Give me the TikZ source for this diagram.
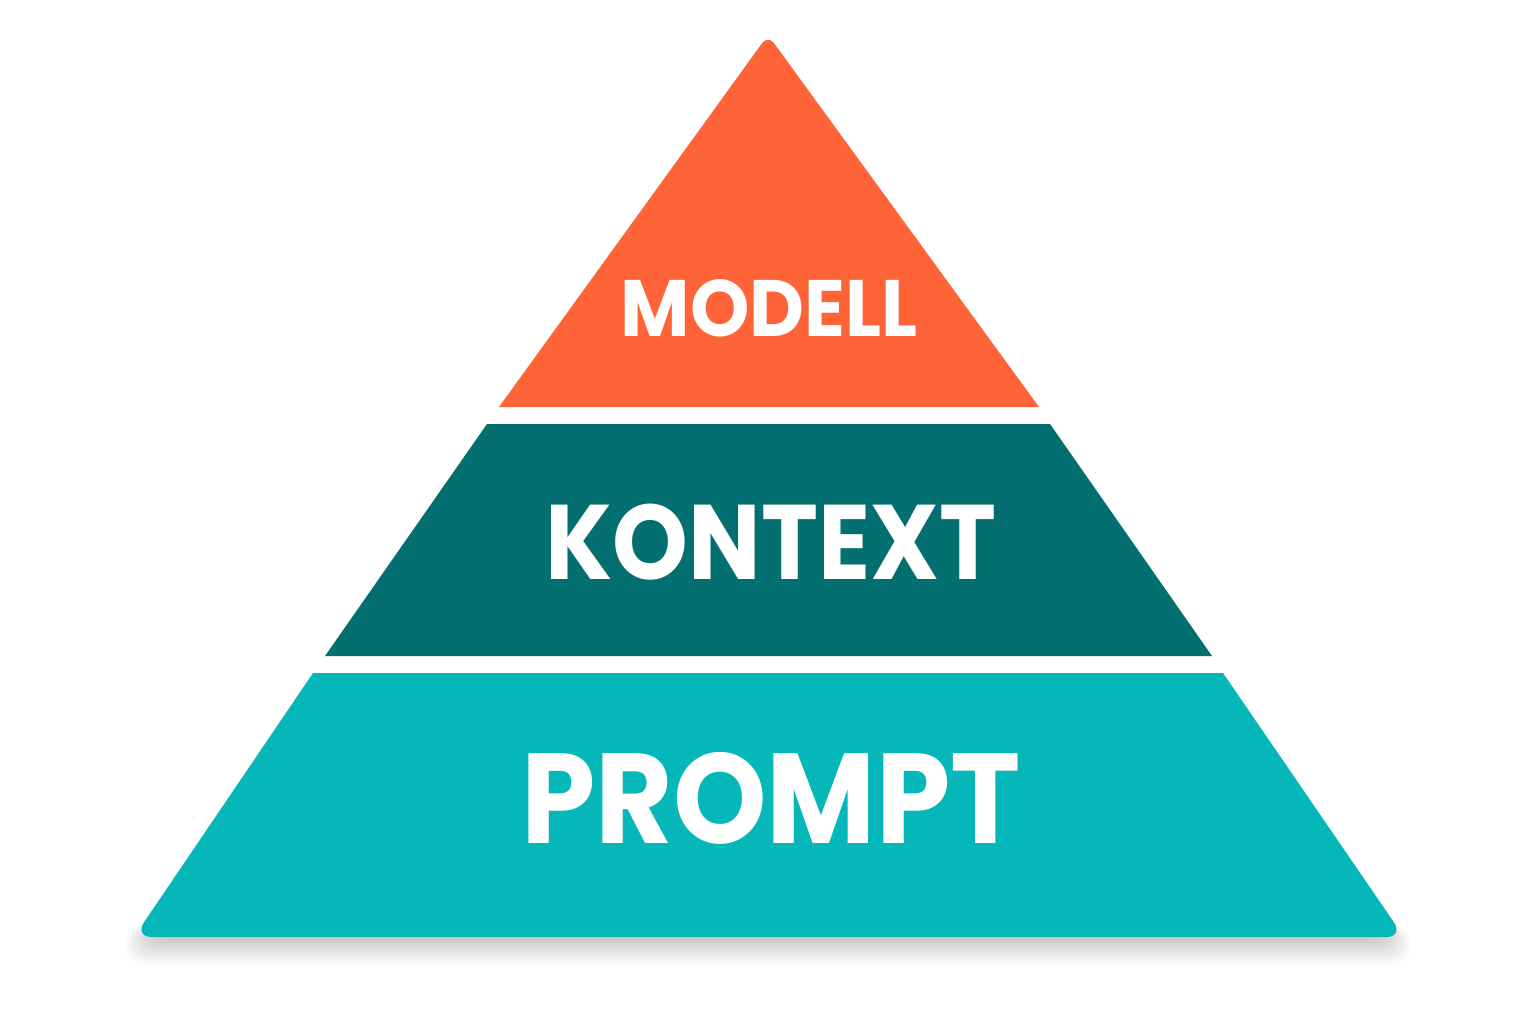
\documentclass[tikz,border=0pt]{standalone}
\usepackage{fontspec}
\usepackage{tikz}
\newfontfamily\labelfont{Poppins}
\definecolor{modellorange}{HTML}{FF6338}
\definecolor{kontextteal}{HTML}{046F70}
\definecolor{promptteal}{HTML}{05B7B9}
\tikzset{
  layertext/.style={text=white, inner sep=0pt, font=\labelfont\bfseries}
}
\begin{document}
\begin{tikzpicture}[x=0.5pt,y=-0.5pt]
            \useasboundingbox[fill=white] (0,0) rectangle (1536,1024);

            % soft shadow under the base
            \foreach \i in {0,...,12}
                \fill[black, opacity=0.016, rounded corners=8pt]
                    (150-2*\i,926) rectangle (1386+2*\i,940+2*\i);

            % layers
            \draw[fill=promptteal, draw=none] (313,673) -- (1223,673)
                [rounded corners=9pt] -- (1404,937) -- (134,937)
                [sharp corners] -- cycle;
            \draw[fill=kontextteal, draw=none] (487,424) -- (1050,424) -- (1212,656) -- (325,656) -- cycle;
            \draw[fill=modellorange, draw=none] (499,407) [rounded corners=5pt] -- (768,35)
                [sharp corners] -- (1039,407) -- cycle;

            % labels
            \node[layertext, xscale=0.945, font=\labelfont\bfseries\fontsize{40}{40}\selectfont] (modell) at (769,308) {MODELL};
            \node[layertext, xscale=0.91, font=\labelfont\bfseries\fontsize{53}{53}\selectfont] (kontext) at (771,542) {KONTEXT};
            \node[layertext, xscale=0.93, font=\labelfont\bfseries\fontsize{64}{64}\selectfont] (prompt) at (771,798) {PROMPT};
\end{tikzpicture}
\end{document}
